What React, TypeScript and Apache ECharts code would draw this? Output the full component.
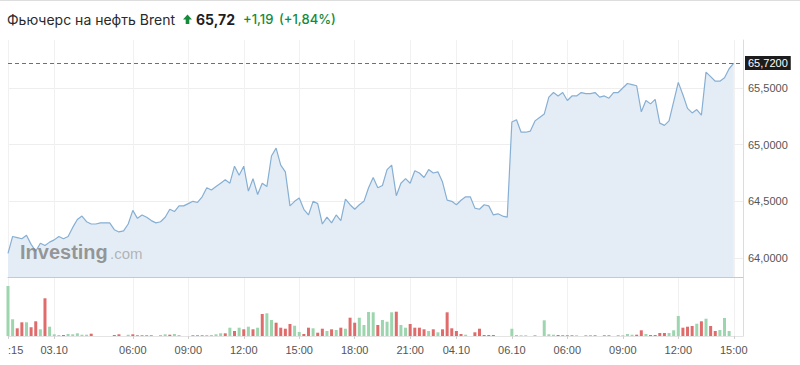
import { useEffect, useRef } from 'react';
import * as echarts from 'echarts';

// Trading sessions: [date label, first bar time, number of 15-minute bars]
const sessions: [string, string, number][] = [
  ['02.10', '21:15', 10],
  ['03.10', '00:00', 5],
  ['03.10', '03:00', 82],
  ['04.10', '00:00', 12],
  ['06.10', '03:00', 49],
];

const majorTimes = ['06:00', '09:00', '12:00', '15:00', '18:00', '21:00'];

const prices = [
  64.04, 64.19, 64.18, 64.17, 64.2, 64.12, 64.06, 64.13, 64.11, 64.14,
  64.16, 64.19, 64.17, 64.19, 64.27, 64.34, 64.37, 64.32, 64.3, 64.3,
  64.31, 64.31, 64.31, 64.25, 64.23, 64.24, 64.3, 64.42, 64.35, 64.38,
  64.36, 64.33, 64.31, 64.32, 64.36, 64.43, 64.41, 64.46, 64.46, 64.48,
  64.5, 64.49, 64.54, 64.62, 64.6, 64.63, 64.66, 64.69, 64.66, 64.81,
  64.73, 64.81, 64.59, 64.7, 64.56, 64.66, 64.63, 64.9, 64.97, 64.82,
  64.76, 64.46, 64.5, 64.53, 64.43, 64.38, 64.5, 64.48, 64.3, 64.36,
  64.31, 64.38, 64.33, 64.52, 64.47, 64.43, 64.47, 64.5, 64.62, 64.71,
  64.62, 64.64, 64.78, 64.82, 64.55, 64.66, 64.7, 64.66, 64.77, 64.75,
  64.71, 64.78, 64.75, 64.76, 64.67, 64.51, 64.5, 64.47, 64.51, 64.54,
  64.54, 64.44, 64.43, 64.47, 64.46, 64.38, 64.39, 64.37, 64.36, 65.2,
  65.22, 65.11, 65.11, 65.12, 65.21, 65.24, 65.27, 65.42, 65.46, 65.43,
  65.46, 65.39, 65.43, 65.43, 65.46, 65.45, 65.45, 65.46, 65.42, 65.43,
  65.41, 65.46, 65.46, 65.5, 65.54, 65.53, 65.52, 65.29, 65.39, 65.36,
  65.4, 65.19, 65.17, 65.21, 65.38, 65.55, 65.44, 65.32, 65.28, 65.31,
  65.26, 65.64, 65.6, 65.56, 65.56, 65.59, 65.67, 65.72,
];

const volumes = [
  5000, 1670, 770, 1370, 1370, 870, 1470, 670, 3770, 930,
  170, 100, 100, 200, 170, 270, 130, 130, 230, 0,
  0, 0, 0, 100, 170, 0, 130, 170, 70, 70,
  70, 70, 0, 100, 170, 130, 200, 100, 0, 0,
  70, 70, 70, 100, 100, 170, 270, 270, 830, 500,
  830, 670, 930, 670, 830, 2200, 2270, 1600, 1330, 830,
  730, 1200, 1030, 400, 200, 830, 770, 330, 730, 500,
  670, 600, 830, 730, 1830, 1330, 1830, 1100, 2400, 2370,
  1100, 1600, 1430, 2370, 2430, 1100, 830, 1200, 830, 830,
  670, 500, 670, 370, 670, 2370, 770, 500, 200, 130,
  0, 370, 730, 100, 100, 100, 0, 0, 0, 730,
  100, 70, 70, 0, 100, 0, 1570, 170, 130, 100,
  70, 70, 70, 70, 0, 100, 100, 70, 0, 70,
  70, 0, 100, 70, 200, 130, 130, 570, 200, 100,
  100, 300, 300, 300, 570, 2000, 830, 930, 1000, 1230,
  1470, 1730, 1000, 500, 600, 1800, 500, 0,
];

// u = up bar (green), d = down bar (red)
const volumeDir = [
  'uudduddudu', 'uuduuuuudu', 'uuudduuddd', 'dduuuduuuu', 'ddduuuudud',
  'udududuudd', 'dduudduddu', 'dududduuuu', 'duuuduuddd', 'dududdddduu'.slice(0, 10),
  'uddddduuuu', 'uuuuuuuuud', 'ddduuuudud', 'duuuuuddud', 'ddduuudddu',
  'dudduuuu',
].join('');

const titleText = 'Фьючерс на нефть Brent';
const priceChange = 1.19;
const priceChangePct = 1.84;

const GREEN = '#158a3c';
const fmt = (v: number, d: number) => v.toFixed(d).replace('.', ',');

export default function App() {
  const ref = useRef<HTMLDivElement>(null);

  useEffect(() => {
    if (!ref.current) return;
    const chart = echarts.init(ref.current, undefined, { renderer: 'svg' });

    const cats: string[] = [];
    const labelText = new Map<string, string>();
    let prevDate = '';
    sessions.forEach(([date, start, count]) => {
      const [h, m] = start.split(':').map(Number);
      let mins = h * 60 + m;
      for (let k = 0; k < count; k++) {
        const hh = String(Math.floor(mins / 60)).padStart(2, '0');
        const mm = String(mins % 60).padStart(2, '0');
        const time = `${hh}:${mm}`;
        const key = `${date} ${time}`;
        if (cats.length === 0) labelText.set(key, time.slice(2));
        else if (date !== prevDate) labelText.set(key, date);
        else if (majorTimes.includes(time)) labelText.set(key, time);
        cats.push(key);
        prevDate = date;
        mins += 15;
      }
    });
    cats.push(' ', '  ');

    const showAt = (_i: number, v: string) => labelText.has(v);
    const last = prices[prices.length - 1];

    const gridLeft = 8;
    const gridRight = 57;

    chart.setOption({
      animation: false,
      textStyle: { fontFamily: 'Liberation Sans, Arial, sans-serif' },
      grid: [
        { left: gridLeft, right: gridRight, top: 40, height: 237 },
        { left: gridLeft, right: gridRight, top: 277, height: 59 },
      ],
      xAxis: [
        {
          type: 'category', gridIndex: 0, data: cats, boundaryGap: false,
          axisLine: { show: true, lineStyle: { color: '#c9c9c9' } },
          axisTick: { show: false },
          axisLabel: { show: false },
          splitLine: { show: true, interval: showAt, lineStyle: { color: '#f1f1f1' } },
        },
        {
          type: 'category', gridIndex: 1, data: cats, boundaryGap: false,
          axisLine: { show: true, lineStyle: { color: '#e4e4e4' } },
          axisTick: { show: true, interval: showAt, length: 3, lineStyle: { color: '#d0d0d0' } },
          axisLabel: {
            show: true, interval: showAt, margin: 8,
            formatter: (v: string) => labelText.get(v) ?? '',
            color: '#555', fontSize: 11, alignMinLabel: 'left',
          },
          splitLine: { show: true, interval: showAt, lineStyle: { color: '#f1f1f1' } },
        },
      ],
      yAxis: [
        {
          type: 'value', gridIndex: 0, position: 'right',
          min: 63.8323, max: 65.9237,
          axisLine: { show: true, lineStyle: { color: '#dcdcdc' } },
          axisTick: { show: false },
          axisLabel: {
            color: '#555', fontSize: 11, margin: 5,
            showMinLabel: false, showMaxLabel: false,
            formatter: (v: number) => fmt(v, 4),
          },
          splitLine: { show: true, showMinLine: false, showMaxLine: false, lineStyle: { color: '#eeeeee' } },
        },
        {
          type: 'value', gridIndex: 1, position: 'right', min: 0, max: 5900,
          axisLine: { show: true, lineStyle: { color: '#dcdcdc' } },
          axisTick: { show: false }, axisLabel: { show: false }, splitLine: { show: false },
        },
      ],
      series: [
        {
          type: 'line', xAxisIndex: 0, yAxisIndex: 0, data: prices,
          showSymbol: false, symbol: 'none',
          lineStyle: { color: '#86afd3', width: 1.2 },
          areaStyle: { color: '#e4edf6', opacity: 1 },
          markLine: {
            silent: true, symbol: ['none', 'none'],
            lineStyle: { color: '#707070', type: [4, 3], width: 1 },
            label: {
              show: true, position: 'end', distance: 2,
              formatter: () => fmt(last, 4),
              backgroundColor: '#1c1c1c', color: '#fff', fontSize: 11,
              padding: [2, 3, 1, 3],
            },
            data: [{ yAxis: last }],
          },
        },
        {
          type: 'bar', xAxisIndex: 1, yAxisIndex: 1, barWidth: 3,
          data: volumes.map((v, i) => ({
            value: v,
            itemStyle: { color: volumeDir[i] === 'u' ? '#9dd5ae' : '#e06b6b' },
          })),
        },
      ],
      graphic: [
        { type: 'line', shape: { x1: 0, y1: 0.5, x2: 800, y2: 0.5 }, style: { stroke: '#dddddd', lineWidth: 1 } },
        {
          type: 'text', x: 7, y: 19,
          style: { text: titleText, fontFamily: 'Inter, sans-serif', fontSize: 14, fill: '#2a2a2a', verticalAlign: 'middle' },
        },
        {
          type: 'polygon',
          shape: { points: [[187.5, 14.5], [192, 19.5], [189.3, 19.5], [189.3, 24], [185.7, 24], [185.7, 19.5], [183, 19.5]] },
          style: { fill: GREEN },
        },
        {
          type: 'text', x: 196, y: 19,
          style: { text: fmt(last, 2), fontFamily: 'Inter, sans-serif', fontSize: 14, fontWeight: 'bold', fill: '#1f1f1f', verticalAlign: 'middle' },
        },
        {
          type: 'text', x: 243, y: 19,
          style: { text: `+${fmt(priceChange, 2)}`, fontFamily: 'Inter, sans-serif', fontSize: 13, fontWeight: 500, fill: GREEN, verticalAlign: 'middle' },
        },
        {
          type: 'text', x: 279, y: 19,
          style: { text: `(+${fmt(priceChangePct, 2)}%)`, fontFamily: 'Inter, sans-serif', fontSize: 13, fontWeight: 500, fill: GREEN, verticalAlign: 'middle' },
        },
        {
          type: 'text', x: 20, y: 262, z: 100,
          style: { text: 'Investing', fontFamily: 'Liberation Sans, Arial, sans-serif', fontSize: 20, fontWeight: 'bold', fill: 'rgba(120,120,120,0.75)', verticalAlign: 'bottom' },
        },
        {
          type: 'text', x: 110, y: 260.5, z: 100,
          style: { text: '.com', fontFamily: 'Liberation Sans, Arial, sans-serif', fontSize: 15, fill: 'rgba(140,140,140,0.6)', verticalAlign: 'bottom' },
        },
      ],
    });

    return () => chart.dispose();
  }, []);

  return (
    <div
      ref={ref}
      style={{ position: 'fixed', left: 0, top: 0, width: 800, height: 365, background: '#fff' }}
    />
  );
}
